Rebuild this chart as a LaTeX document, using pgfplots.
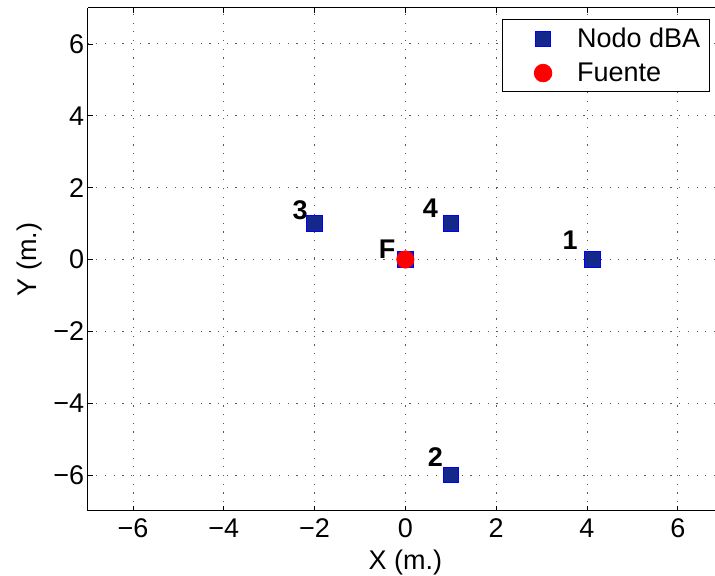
\documentclass[border=0pt]{standalone}
\usepackage{fontspec}
\setmainfont{Liberation Sans}
\usepackage{pgfplots}
\pgfplotsset{compat=1.18}
\definecolor{navy}{RGB}{20,40,140}
\newcommand{\ff}{\fontsize{27bp}{31bp}\selectfont}
\begin{document}
\begin{tikzpicture}[font=\ff]
\begin{axis}[name=ax, scale only axis, width=627.4bp, height=503bp,
 xmin=-7, xmax=6.82, ymin=-7, ymax=7,
 axis x line*=box, axis y line*=left,
 axis line style={line width=1bp},
 xtick={-6,-4,-2,0,2,4,6}, xticklabels={−6,−4,−2,0,2,4,6},
 ytick={-6,-4,-2,0,2,4,6}, yticklabels={−6,−4,−2,0,2,4,6},
 xticklabel style={yshift=-4bp},
 tick align=inside, major tick length=5bp,
 tick style={black, line width=0.8bp},
 grid=major, major grid style={dash pattern=on 1.2bp off 7.5bp, black!65, line width=0.9bp},
 xlabel={X (m.)}, ylabel={Y (m.)},
 every axis x label/.style={at={(axis description cs:0.5065,-0.1163)}, anchor=base},
 every axis y label/.style={at={(axis description cs:-0.0822,0.5)}, rotate=90, anchor=base},
 legend style={at={(axis description cs:0.9915,0.978)}, anchor=north east, draw=black, line width=0.8bp, font=\ff, row sep=13.5bp, inner xsep=0pt, inner ysep=8.5bp, nodes={inner sep=0pt}},
 legend cell align=left,
 legend image code/.code={\path (0bp,0bp) (73.5bp,0bp); \draw[#1] plot coordinates {(39.8bp,-0.5bp)};},
]
\addplot[only marks, mark=square*, mark size=7.8bp, draw=blue, fill=navy, line width=0.8bp] coordinates {(4.12,0) (1,-6) (-2,1) (1,1) (0,0)};
\addlegendentry{Nodo dBA\rule{9bp}{0pt}}
\addplot[only marks, mark=*, mark size=8.8bp, draw=red, fill=red] coordinates {(0,0)};
\addlegendentry{Fuente}
\node[font=\ff\bfseries] at (axis cs:-2.32,1.38) {3};
\node[font=\ff\bfseries] at (axis cs:0.55,1.43) {4};
\node[font=\ff\bfseries] at (axis cs:-0.40,0.28) {F};
\node[font=\ff\bfseries] at (axis cs:3.63,0.54) {1};
\node[font=\ff\bfseries] at (axis cs:0.66,-5.51) {2};
\end{axis}
\pgfresetboundingbox
\path[use as bounding box] ([xshift=-87.6bp,yshift=-65bp]ax.south west) rectangle ([yshift=8bp]ax.north east);
\end{tikzpicture}
\end{document}
